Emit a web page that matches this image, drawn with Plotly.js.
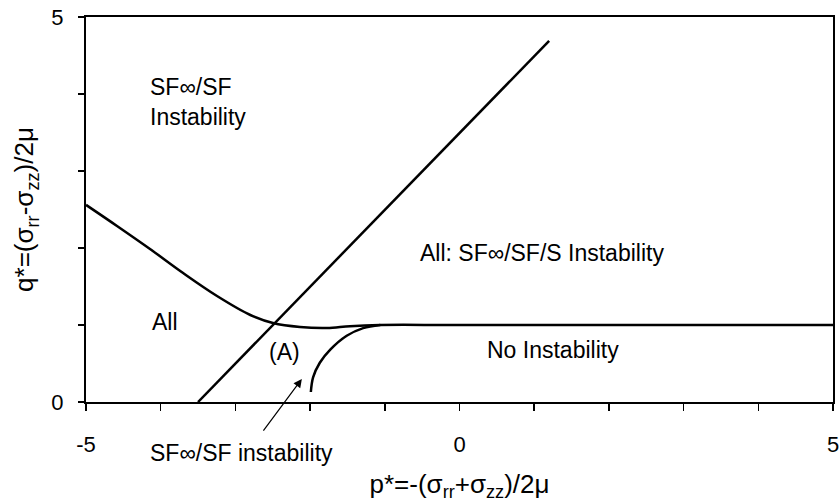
<!DOCTYPE html>
<html>
<head>
<meta charset="utf-8">
<script src="https://cdn.plot.ly/plotly-3.0.1.min.js"></script>
<style>html,body{margin:0;padding:0;background:#fff;}#chart{width:839px;height:502px;}</style>
</head>
<body>
<div id="chart"></div>
<script>
// Straight boundary line
const lineX = [-3.5, 1.2];
const lineY = [0, 4.69];

// Upper boundary curve (descends to the q*=1 plateau)
const upperX = [-5, -4.585, -4.143, -3.70, -3.246, -2.80, -2.497, -2.135, -1.774, -1.466, -1.064, 0, 5];
const upperY = [2.56, 2.286, 1.987, 1.675, 1.377, 1.13, 1.026, 0.974, 0.961, 0.985, 1.0, 1.0, 1.0];

// Lower boundary curve (rises to meet the plateau)
const lowerX = [-1.99, -1.96, -1.87, -1.73, -1.51, -1.29, -1.06];
const lowerY = [0.13, 0.32, 0.51, 0.68, 0.86, 0.96, 1.0];

const xTickVals = [-5, -4, -3, -2, -1, 0, 1, 2, 3, 4, 5];
const xTickText = ['-5', '', '', '', '', '0', '', '', '', '', '5'];
const yTickVals = [0, 1, 2, 3, 4, 5];
const yTickText = ['0', '', '', '', '', '5'];

const FONT = 'Arial, "Liberation Sans", sans-serif';
const lineStyle = {color: '#000', width: 2.5};

const traces = [
  {x: lineX, y: lineY, mode: 'lines', line: lineStyle, showlegend: false, hoverinfo: 'skip'},
  {x: upperX, y: upperY, mode: 'lines', line: Object.assign({shape: 'spline', smoothing: 1}, lineStyle), showlegend: false, hoverinfo: 'skip'},
  {x: lowerX, y: lowerY, mode: 'lines', line: Object.assign({shape: 'spline', smoothing: 1}, lineStyle), showlegend: false, hoverinfo: 'skip'}
];

const txt = (x, y, text, extra) => Object.assign({x: x, y: y, xref: 'x', yref: 'y', text: text, showarrow: false,
  xanchor: 'left', yanchor: 'middle', align: 'left', font: {family: FONT, size: 23, color: '#000'}}, extra || {});

const annotations = [
  txt(-4.17, 3.90, 'SF∞/SF<br>Instability'),
  txt(-4.14, 1.04, 'All'),
  txt(-2.58, 0.65, '(A)'),
  txt(-0.556, 1.94, 'All: SF∞/SF/S Instability'),
  txt(0.34, 0.675, 'No Instability'),
  txt(-4.17, -0.132, 'SF∞/SF instability', {yref: 'paper'}),
  {x: -2.11, y: 0.30, xref: 'x', yref: 'y', ax: -2.64, ay: -0.39, axref: 'x', ayref: 'y',
   text: '', showarrow: true, arrowhead: 2, arrowsize: 1.4, arrowwidth: 1.2, arrowcolor: '#000'}
];

const layout = {
  width: 839, height: 502,
  margin: {l: 86, r: 6, t: 17, b: 100},
  paper_bgcolor: '#fff', plot_bgcolor: '#fff',
  font: {family: FONT, size: 22, color: '#000'},
  xaxis: {
    range: [-5, 5], showgrid: false, zeroline: false,
    showline: true, linecolor: '#000', linewidth: 2, mirror: true,
    ticks: 'outside', ticklen: 7, tickwidth: 1.5, tickcolor: '#000',
    tickmode: 'array', tickvals: xTickVals, ticktext: xTickText,
    ticklabelstandoff: 15, ticklabeloverflow: 'allow',
    tickfont: {family: FONT, size: 22, color: '#000'},
    title: {text: 'p*=-(σ<sub>rr</sub>+σ<sub>zz</sub>)/2μ', font: {family: FONT, size: 26, color: '#000'}, standoff: 24}
  },
  yaxis: {
    range: [0, 5], showgrid: false, zeroline: false,
    showline: true, linecolor: '#000', linewidth: 2, mirror: true,
    ticks: 'outside', ticklen: 6, tickwidth: 1.5, tickcolor: '#000',
    tickmode: 'array', tickvals: yTickVals, ticktext: yTickText,
    ticklabelstandoff: 10,
    tickfont: {family: FONT, size: 22, color: '#000'},
    title: {text: 'q*=(σ<sub>rr</sub>-σ<sub>zz</sub>)/2μ', font: {family: FONT, size: 26, color: '#000'}, standoff: 10}
  },
  annotations: annotations,
  showlegend: false
};

Plotly.newPlot('chart', traces, layout, {staticPlot: true, displayModeBar: false});
</script>
</body>
</html>
